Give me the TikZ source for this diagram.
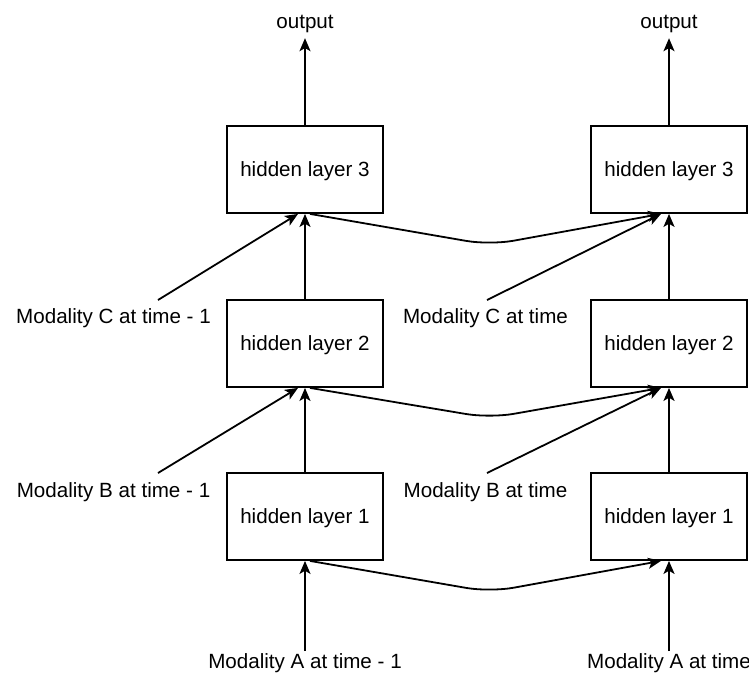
\documentclass[tikz,border=0pt]{standalone}
\usepackage{fontspec}
\setmainfont{Liberation Sans}
\usetikzlibrary{arrows.meta,calc}
\begin{document}
\begin{tikzpicture}[x=0.5pt,y=-0.5pt,
  font=\fontsize{10.3}{12}\selectfont,
  layerbox/.style={draw=black,line width=0.9pt,minimum width=78pt,minimum height=43.5pt,inner sep=0pt,fill=white,text depth=0pt},
  lbl/.style={inner sep=1pt},
  arr/.style={line width=0.9pt,-{Stealth[length=6.5pt,width=5.5pt,inset=1.6pt]}},
  link/.style={arr,rounded corners=12pt}]
\useasboundingbox (0,0) rectangle (749,677);
% boxes
\node[layerbox] (l3) at (305,169.5) {hidden layer 3};
\node[layerbox] (l2) at (305,343.5) {hidden layer 2};
\node[layerbox] (l1) at (305,516.5) {hidden layer 1};
\node[layerbox] (r3) at (669,169.5) {hidden layer 3};
\node[layerbox] (r2) at (669,343.5) {hidden layer 2};
\node[layerbox] (r1) at (669,516.5) {hidden layer 1};
% labels
\node[lbl] (outL) at (305,24) {output};
\node[lbl] (outR) at (669,24) {output};
\node[lbl] (cL) at (113.5,318) {Modality C at time - 1};
\node[lbl] (cR) at (485.5,318) {Modality C at time};
\node[lbl] (bL) at (113.5,492) {Modality B at time - 1};
\node[lbl] (bR) at (485.5,492) {Modality B at time};
\node[lbl] (aL) at (305,663) {Modality A at time - 1};
\node[lbl] (aR) at (669,663) {Modality A at time};
% free ends of diagonal connectors
\coordinate (cLs) at (158,300);
\coordinate (cRs) at (487,300);
\coordinate (bLs) at (158,473);
\coordinate (bRs) at (487,473);
% dips of cross links
\coordinate (d3) at (490,245);
\coordinate (d2) at (490,418);
\coordinate (d1) at (490,592);
% outputs
\draw[arr,shorten >=1.5pt] (l3.north) -- (outL.south);
\draw[arr,shorten >=1.5pt] (r3.north) -- (outR.south);
% verticals
\draw[arr] (l2.north) -- (l3.south);
\draw[arr] (l1.north) -- (l2.south);
\draw[arr] (aL.north) -- (l1.south);
\draw[arr] (r2.north) -- (r3.south);
\draw[arr] (r1.north) -- (r2.south);
\draw[arr] (aR.north) -- (r1.south);
% diagonals from modalities
\draw[arr] (cLs) -- ($(l3.south)+(-7,0)$);
\draw[arr] (bLs) -- ($(l2.south)+(-7,0)$);
\draw[arr] (cRs) -- ($(r3.south)+(-8,0)$);
\draw[arr] (bRs) -- ($(r2.south)+(-8,0)$);
% cross links
\draw[link] ($(l3.south)+(5,0)$) -- (d3) -- ($(r3.south)+(-8,0)$);
\draw[link] ($(l2.south)+(5,0)$) -- (d2) -- ($(r2.south)+(-8,0)$);
\draw[link] ($(l1.south)+(5,0)$) -- (d1) -- ($(r1.south)+(-8,0)$);
\end{tikzpicture}
\end{document}
